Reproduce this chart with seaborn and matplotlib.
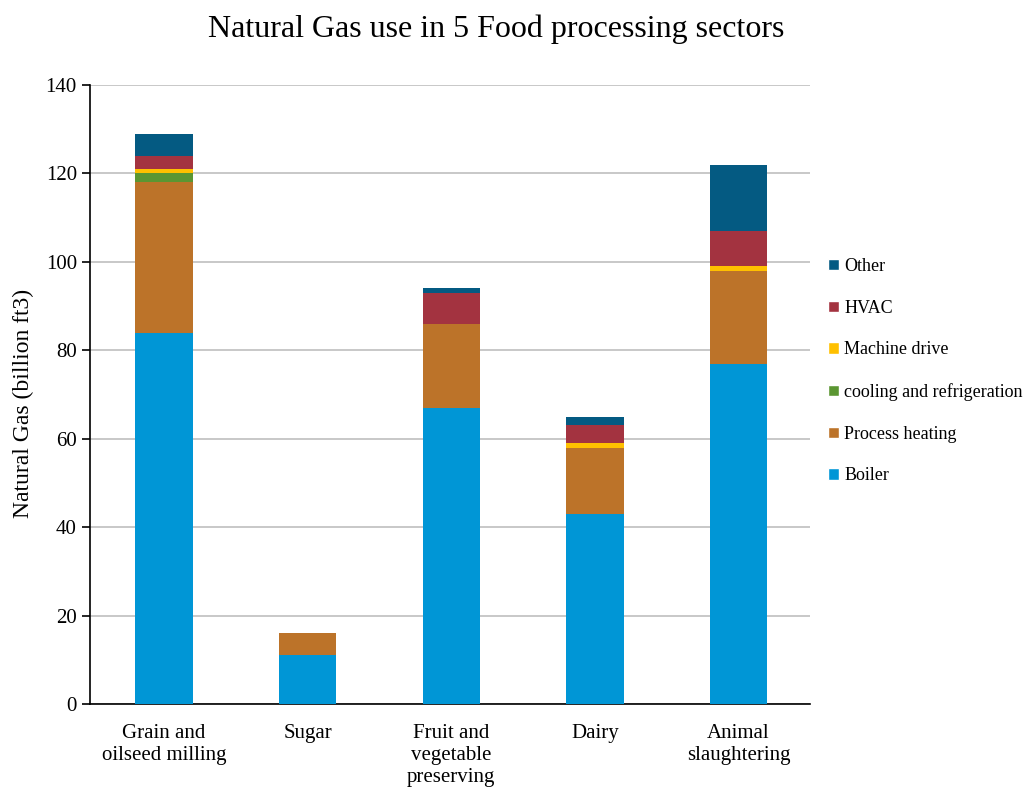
import pandas as pd
import matplotlib.pyplot as plt
import seaborn as sns
from matplotlib.patches import Patch

sns.set_style("white")
plt.rcParams['font.family'] = ['Liberation Serif', 'DejaVu Serif']
plt.rcParams['text.color'] = 'black'
plt.rcParams['axes.labelcolor'] = 'black'
plt.rcParams['xtick.color'] = 'black'
plt.rcParams['ytick.color'] = 'black'

sectors = ['Grain and\noilseed milling', 'Sugar', 'Fruit and\nvegetable\npreserving',
           'Dairy', 'Animal\nslaughtering']
boiler = [84, 11, 67, 43, 77]
process_heating = [34, 5, 19, 15, 21]
cooling = [2, 0, 0, 0, 0]
machine_drive = [1, 0, 0, 1, 1]
hvac = [3, 0, 7, 4, 8]
other = [5, 0, 1, 2, 15]

uses = ['Boiler', 'Process heating', 'cooling and refrigeration', 'Machine drive', 'HVAC', 'Other']
colors = ['#0096D6', '#BC7329', '#5B9632', '#FFC000', '#A33340', '#045A82']

df = pd.DataFrame({'sector': sectors, 'Boiler': boiler, 'Process heating': process_heating,
                   'cooling and refrigeration': cooling, 'Machine drive': machine_drive,
                   'HVAC': hvac, 'Other': other})

fig = plt.figure(figsize=(10.29, 7.94), dpi=100)
ax = fig.add_axes([0.0875, 0.1134, 0.70, 0.7796])

bottom = pd.Series([0] * len(df), dtype=float)
for use, col in zip(uses, colors):
    sns.barplot(data=df, x='sector', y=use, color=col, bottom=bottom.values,
                width=0.4, ax=ax, saturation=1, linewidth=0, zorder=3)
    bottom = bottom + df[use]

ax.set_ylim(0, 140)
ax.set_xlim(-0.516, 4.5)
ax.set_yticks(range(0, 141, 20))
ax.yaxis.grid(True, color='#BFBFBF', linewidth=1.2, zorder=0)
ax.set_axisbelow(True)
for s in ['top', 'right']:
    ax.spines[s].set_visible(False)
for s in ['left', 'bottom']:
    ax.spines[s].set_color('black')
    ax.spines[s].set_linewidth(1.2)
ax.tick_params(axis='y', which='both', left=True, length=6, width=1.2, labelsize=15)
ax.tick_params(axis='x', bottom=False, labelsize=15, pad=11)
ax.set_xlabel('')
ax.set_ylabel('Natural Gas (billion ft3)', fontsize=17)
ax.yaxis.set_label_coords(-0.078, 0.485)
fig.suptitle('Natural Gas use in 5 Food processing sectors', fontsize=23, x=0.482, y=0.982)

handles = [Patch(facecolor=c, label=u) for u, c in zip(uses, colors)][::-1]
fig.legend(handles=handles, loc='center left', bbox_to_anchor=(0.789, 0.5325),
           frameon=False, fontsize=13, labelspacing=1.37, handlelength=0.6,
           handleheight=0.6, handletextpad=0.3)

fig.savefig('out.png', dpi=100)
